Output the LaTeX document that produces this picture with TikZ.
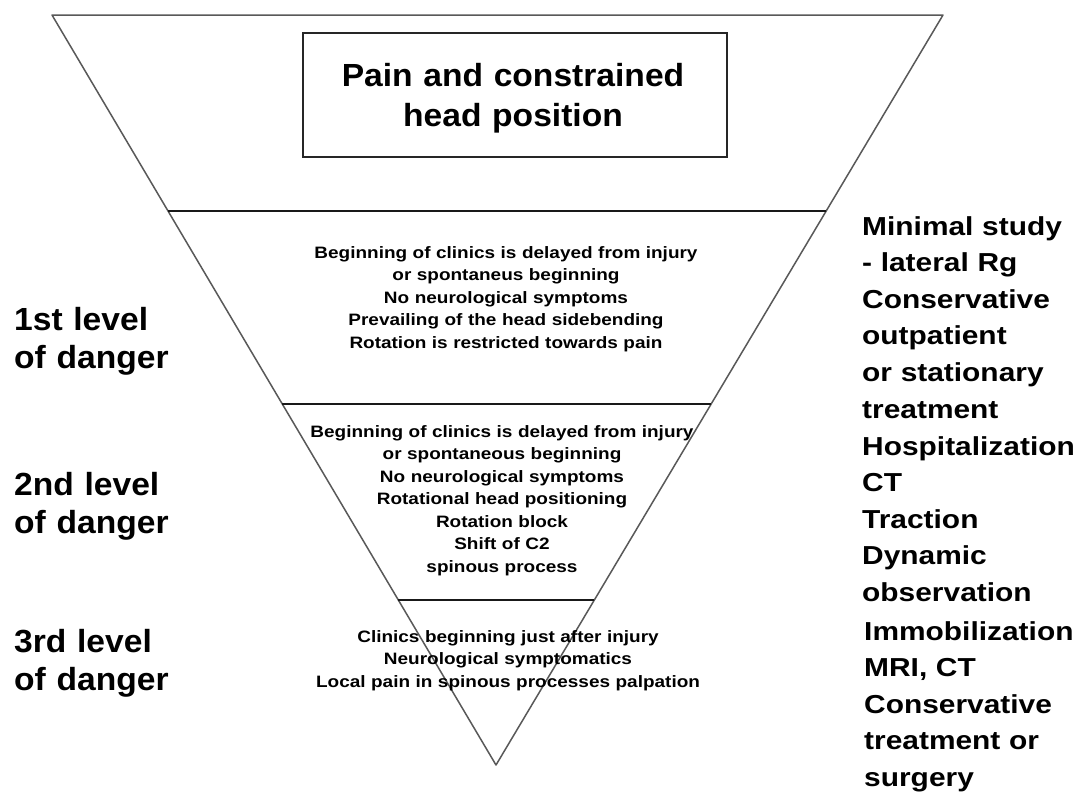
\documentclass[tikz,border=0pt]{standalone}
\usepackage{fontspec}
\setmainfont{Liberation Sans}
\newfontfamily\lvlfont{Liberation Sans}[FakeStretch=1.15]
\newfontfamily\bigfont{Liberation Sans}[FakeStretch=1.05]
\newfontfamily\sidefont{Liberation Sans}[FakeStretch=1.15]
\usetikzlibrary{calc}
\begin{document}
\begin{tikzpicture}[x=1pt,y=-1pt,
  edge/.style={draw=black!65, line width=1.5pt, line join=round},
  divider/.style={draw=black!90, line width=2pt},
  titlebox/.style={draw=black!85, line width=1.3pt, minimum width=424pt, minimum height=124pt, inner sep=0pt},
  titletext/.style={inner sep=0pt, anchor=base, text width=420pt, align=center, font=\bigfont\bfseries\fontsize{32}{40}\selectfont},
  lvltext/.style={inner sep=0pt, anchor=base, text width=440pt, align=center, font=\lvlfont\bfseries\fontsize{16.5}{22.5}\selectfont},
  leftlabel/.style={inner sep=0pt, anchor=base west, text width=200pt, align=left, font=\bigfont\bfseries\fontsize{32}{38}\selectfont},
  sidetext/.style={inner sep=0pt, anchor=base west, text width=215pt, align=left, font=\sidefont\bfseries\fontsize{26}{36.6}\selectfont}
]
\useasboundingbox (0,0) rectangle (1081,793);
\fill[white] (0,0) rectangle (1081,793);

% triangle vertices
\coordinate (TL) at (52,15);
\coordinate (TR) at (943,15);
\coordinate (V) at (496,765);
% divider end points
\coordinate (A1) at ($(TL)!0.26133!(V)$);
\coordinate (B1) at ($(TR)!0.26133!(V)$);
\coordinate (A2) at ($(TL)!0.51867!(V)$);
\coordinate (B2) at ($(TR)!0.51867!(V)$);
\coordinate (A3) at ($(TL)!0.78!(V)$);
\coordinate (B3) at ($(TR)!0.78!(V)$);

\draw[edge] (TL) -- (TR) -- (V) -- cycle;
\draw[divider] (A1) -- (B1);
\draw[divider] (A2) -- (B2);
\draw[divider, line width=1.6pt] (A3) -- (B3);

% title box
\node[titlebox] (box) at (515,95) {};
\node[titletext] (title) at (513,86) {Pain and constrained\\head position};

% level texts
\node[lvltext] (l1) at (506,258) {Beginning of clinics is delayed from injury\\or spontaneus beginning\\No neurological symptoms\\Prevailing of the head sidebending\\Rotation is restricted towards pain};
\node[lvltext] (l2) at (502,437) {Beginning of clinics is delayed from injury\\or spontaneous beginning\\No neurological symptoms\\Rotational head positioning\\Rotation block\\Shift of C2\\spinous process};
\node[lvltext] (l3) at (508,642) {Clinics beginning just after injury\\Neurological symptomatics\\Local pain in spinous processes palpation};

% left labels
\node[leftlabel] (d1) at (14,330) {1st level\\of danger};
\node[leftlabel] (d2) at (14,495) {2nd level\\of danger};
\node[leftlabel] (d3) at (14,652) {3rd level\\of danger};

% right texts
\node[sidetext] (r1) at (862,235) {Minimal study\\- lateral Rg\\Conservative\\outpatient\\or stationary\\treatment};
\node[sidetext] (r2) at (862,455) {Hospitalization\\CT\\Traction\\Dynamic\\observation};
\node[sidetext] (r3) at (864,640) {Immobilization\\MRI, CT\\Conservative\\treatment or\\surgery};
\end{tikzpicture}
\end{document}
